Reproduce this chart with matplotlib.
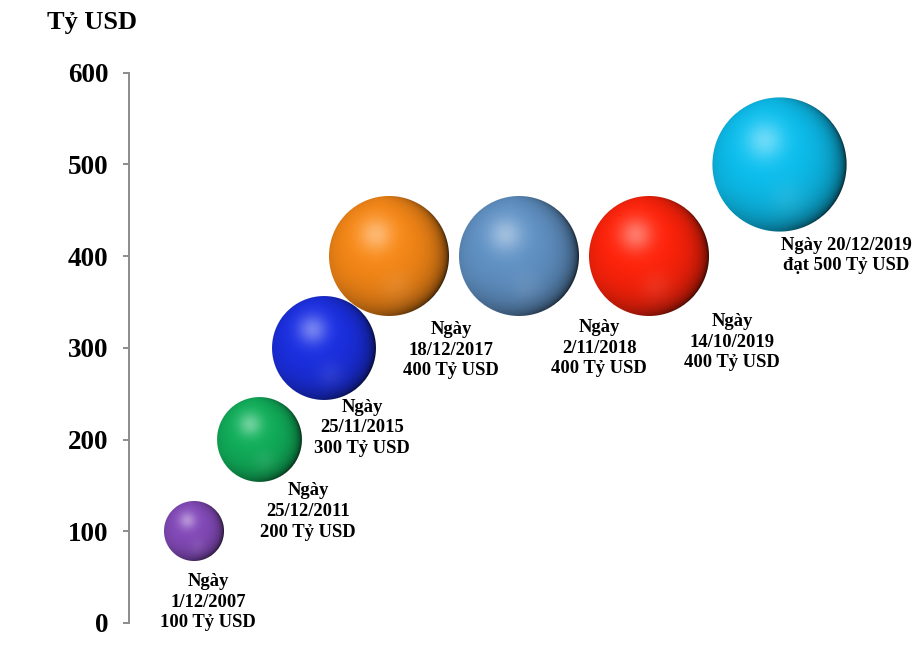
import numpy as np
import matplotlib
matplotlib.use("Agg")
import matplotlib.pyplot as plt
from matplotlib.offsetbox import OffsetImage, AnnotationBbox

# ---- data ----
x_pos = [1, 2, 3, 4, 6, 8, 10]
values = [100, 200, 300, 400, 400, 400, 500]
labels = [
    "Ngày\n1/12/2007\n100 Tỷ USD",
    "Ngày\n25/12/2011\n200 Tỷ USD",
    "Ngày\n25/11/2015\n300 Tỷ USD",
    "Ngày\n18/12/2017\n400 Tỷ USD",
    "Ngày\n2/11/2018\n400 Tỷ USD",
    "Ngày\n14/10/2019\n400 Tỷ USD",
    "Ngày 20/12/2019\nđạt 500 Tỷ USD",
]
colors = [
    (128, 72, 180),
    (16, 170, 88),
    (26, 46, 220),
    (240, 132, 22),
    (94, 142, 192),
    (250, 34, 10),
    (12, 186, 232),
]
y_ticks = [0, 100, 200, 300, 400, 500, 600]
y_label = "Tỷ USD"

# label offsets from bubble centre, in pixels (right, down)
label_off = [(14, 71), (49, 72), (38, 80), (62, 94), (80, 92), (83, 86), (67, 91)]

FONT = "Liberation Serif"
DPI = 100
fig = plt.figure(figsize=(9.2, 6.48), dpi=DPI)
ax = fig.add_axes([129.3 / 920, (648 - 623) / 648, 780 / 920, (623 - 72.7) / 648])
ax.set_xlim(0, 12)
ax.set_ylim(0, 600)


def norm(v):
    v = np.asarray(v, float)
    return v / np.linalg.norm(v)


def sphere(rgb, r):
    n = int(np.ceil(2 * r)) + 4
    c = n / 2.0
    yy, xx = np.mgrid[0:n, 0:n]
    u = (xx + 0.5 - c) / r
    v = -(yy + 0.5 - c) / r
    dist = np.sqrt(u ** 2 + v ** 2)
    dd = np.maximum(dist, 1e-9)
    uc = np.where(dist > 1, u / dd, u)
    vc = np.where(dist > 1, v / dd, v)
    w = np.sqrt(np.clip(1 - uc ** 2 - vc ** 2, 0, 1))
    base = np.array(rgb, float) / 255.0

    L = norm([-0.22, 0.35, 0.91])
    ndl = uc * L[0] + vc * L[1] + w * L[2]
    shade = 0.80 + 0.25 * ndl
    # dark rim toward lower-right
    side = (uc * 0.85 - vc * 0.5) / np.maximum(np.sqrt(uc ** 2 + vc ** 2), 1e-9)
    rim = (1 - w) ** 2.2
    dark = rim * np.clip(0.45 + 0.75 * side, 0, 1)
    shade = shade * (1 - 0.88 * dark)
    col = base[None, None, :] * shade[..., None]
    # lighter reflected band at bottom-left rim
    side2 = (-uc * 0.35 - vc * 0.94) / np.maximum(np.sqrt(uc ** 2 + vc ** 2), 1e-9)
    refl = ((1 - w) ** 3) * np.clip(side2, 0, 1) ** 2 * 0.45
    col = col + (base[None, None, :] * 1.15 - col) * refl[..., None]
    # soft interior reflection lower middle
    g2 = np.exp(-((uc - 0.12) ** 2 + (vc + 0.5) ** 2) / (2 * 0.18 ** 2)) * 0.12
    col = col + (1 - col) * g2[..., None] * 0.6
    # soft highlight (tinted)
    g = np.exp(-((uc + 0.22) ** 2 + (vc - 0.36) ** 2) / (2 * 0.20 ** 2))
    col = col + (1 - col) * (0.38 * g)[..., None]
    col = np.clip(col, 0, 1)
    alpha = np.clip((1 - dist) * r + 0.5, 0, 1)
    return np.dstack([col, alpha])


for x, val, rgb, lab, (ox, oy) in zip(x_pos, values, colors, labels, label_off):
    r_px = 3.0 * np.sqrt(val)
    img = sphere(rgb, r_px)
    oi = OffsetImage(img, zoom=1, dpi_cor=False, interpolation="nearest")
    ab = AnnotationBbox(oi, (x, val), xycoords="data", frameon=False, pad=0,
                        box_alignment=(0.5, 0.5), zorder=3)
    ax.add_artist(ab)
    ax.annotate(lab, (x, val), xytext=(ox * 72 / DPI, -oy * 72 / DPI),
                textcoords="offset points", ha="center", va="center",
                fontsize=13.4, fontweight="bold", family=FONT,
                linespacing=1.28, color="black", zorder=4)

for s in ["top", "right", "bottom"]:
    ax.spines[s].set_visible(False)
ax.spines["left"].set_color("#8c8c8c")
ax.spines["left"].set_linewidth(1.4)
ax.set_xticks([])
ax.set_yticks(y_ticks)
ax.set_yticklabels([str(t) for t in y_ticks], fontsize=19.5, fontweight="bold",
                   family=FONT)
ax.tick_params(axis="y", direction="out", length=4.3, width=1.4,
               color="#8c8c8c", pad=10.5)
ax.patch.set_visible(False)

fig.text(92 / 920, 1 - 22 / 648, y_label, ha="center", va="center",
         fontsize=19, fontweight="bold", family=FONT)

fig.savefig("out.png", dpi=DPI)
